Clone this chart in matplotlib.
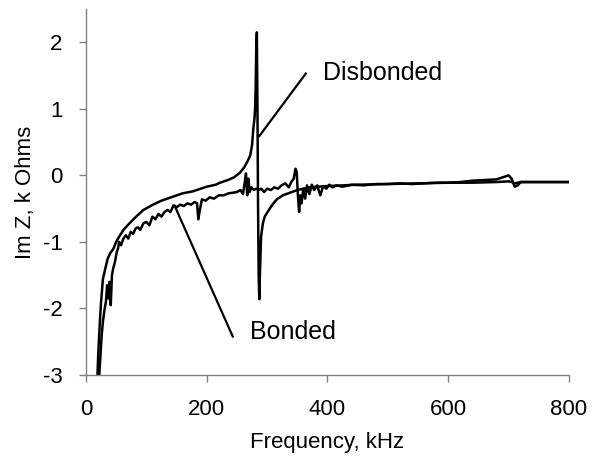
import numpy as np
import matplotlib
matplotlib.use('Agg')
import matplotlib.pyplot as plt

plt.rcParams['font.family'] = ['Liberation Sans', 'DejaVu Sans']
plt.rcParams['axes.unicode_minus'] = False

# Disbonded curve (kHz, k Ohms)
disb_f = [19, 20, 21.5, 23, 25, 28, 32, 36, 40, 45, 50, 55, 62, 70, 83, 95, 111, 125,
          144, 160, 177, 190, 200, 215, 222, 235, 245, 255, 262, 268, 272, 275, 277,
          279, 280, 281, 282, 283, 284, 285, 286, 287, 288, 290, 293, 296, 300, 308,
          316, 326, 338, 350, 370, 400, 450, 500, 550, 600, 640, 680, 700, 705, 710,
          715, 720, 760, 800]
disb_z = [-3.0, -2.75, -2.46, -2.2, -1.9, -1.56, -1.4, -1.25, -1.17, -1.11, -1.0, -0.92,
          -0.82, -0.74, -0.62, -0.52, -0.44, -0.38, -0.32, -0.27, -0.24, -0.2, -0.17,
          -0.14, -0.11, -0.07, -0.03, 0.04, 0.12, 0.22, 0.3, 0.45, 0.69, 0.85, 0.99,
          1.3, 1.9, 2.15, 1.0, -0.5, -1.5, -1.86, -1.5, -0.92, -0.72, -0.62, -0.56,
          -0.45, -0.36, -0.3, -0.26, -0.22, -0.18, -0.16, -0.14, -0.13, -0.12, -0.11,
          -0.11, -0.1, -0.09, -0.1, -0.12, -0.11, -0.1, -0.1, -0.1]

# Bonded curve (kHz, k Ohms)
bond_f = [22, 24, 26, 28, 31, 33, 35, 37, 39, 41, 43, 45, 48, 51, 53, 55, 58, 62, 66, 70,
          74, 78, 82, 86, 90, 95, 100, 105, 110, 115, 120, 125, 130, 135, 140, 145, 150,
          156, 162, 168, 174, 180, 184, 186, 188, 192, 198, 205, 212, 220, 228, 236, 244,
          250, 256, 260, 263, 265, 267, 269, 271, 274, 278, 282, 286, 290, 295, 300, 306,
          312, 318, 324, 330, 336, 340, 344, 347, 349, 351, 353, 355, 357, 360, 363, 366,
          370, 374, 378, 383, 388, 393, 398, 403, 408, 415, 425, 440, 460, 480, 500, 520,
          540, 560, 580, 600, 620, 640, 660, 680, 690, 700, 705, 710, 715, 720, 740, 760,
          780, 800]
bond_z = [-3.0, -2.7, -2.4, -2.2, -2.0, -1.9, -1.65, -1.85, -1.6, -1.95, -1.5, -1.4, -1.3,
          -1.15, -1.1, -1.0, -1.05, -0.95, -0.9, -0.95, -0.85, -0.88, -0.8, -0.78, -0.82,
          -0.72, -0.7, -0.75, -0.62, -0.66, -0.58, -0.62, -0.55, -0.52, -0.55, -0.45,
          -0.48, -0.44, -0.46, -0.42, -0.44, -0.4, -0.42, -0.66, -0.55, -0.36, -0.38,
          -0.33, -0.35, -0.3, -0.3, -0.27, -0.26, -0.25, -0.22, -0.28, -0.1, 0.03, -0.3,
          -0.05, -0.25, -0.18, -0.22, -0.2, -0.22, -0.2, -0.25, -0.2, -0.22, -0.18, -0.2,
          -0.15, -0.12, -0.18, -0.1, -0.05, 0.1, 0.05, -0.3, -0.55, -0.3, -0.42, -0.2,
          -0.35, -0.15, -0.28, -0.14, -0.22, -0.15, -0.3, -0.16, -0.2, -0.14, -0.18,
          -0.15, -0.17, -0.14, -0.15, -0.13, -0.13, -0.12, -0.13, -0.12, -0.11, -0.11,
          -0.1, -0.08, -0.07, -0.06, -0.03, 0.0, -0.05, -0.17, -0.15, -0.1, -0.1, -0.1,
          -0.1, -0.1]

fig = plt.figure(figsize=(5.98, 4.58), dpi=100)
ax = fig.add_axes([0.1438, 0.1812, 0.8077, 0.7991])

ax.plot(disb_f, disb_z, color='black', lw=1.8)
ax.plot(bond_f, bond_z, color='black', lw=1.8)

# annotation leader lines
ax.plot([287, 364], [0.59, 1.53], color='black', lw=1.6)
ax.plot([147, 243], [-0.46, -2.42], color='black', lw=1.6)
ax.text(393, 1.54, 'Disbonded', fontsize=18, va='center', ha='left')
ax.text(272, -2.36, 'Bonded', fontsize=18, va='center', ha='left')

ax.set_xlim(0, 800)
ax.set_ylim(-3, 2.5)
ax.set_xticks([0, 200, 400, 600, 800])
ax.set_yticks([-3, -2, -1, 0, 1, 2])
ax.set_xlabel('Frequency, kHz', fontsize=16, labelpad=9)
ax.set_ylabel('Im Z, k Ohms', fontsize=16, labelpad=5)

for s in ['top', 'right']:
    ax.spines[s].set_visible(False)
for s in ['left', 'bottom']:
    ax.spines[s].set_color('#808080')
    ax.spines[s].set_linewidth(1.0)
ax.tick_params(axis='both', direction='out', length=5, width=1.0, color='#808080',
               labelsize=16, pad=12)

fig.savefig('out.png', dpi=100)
